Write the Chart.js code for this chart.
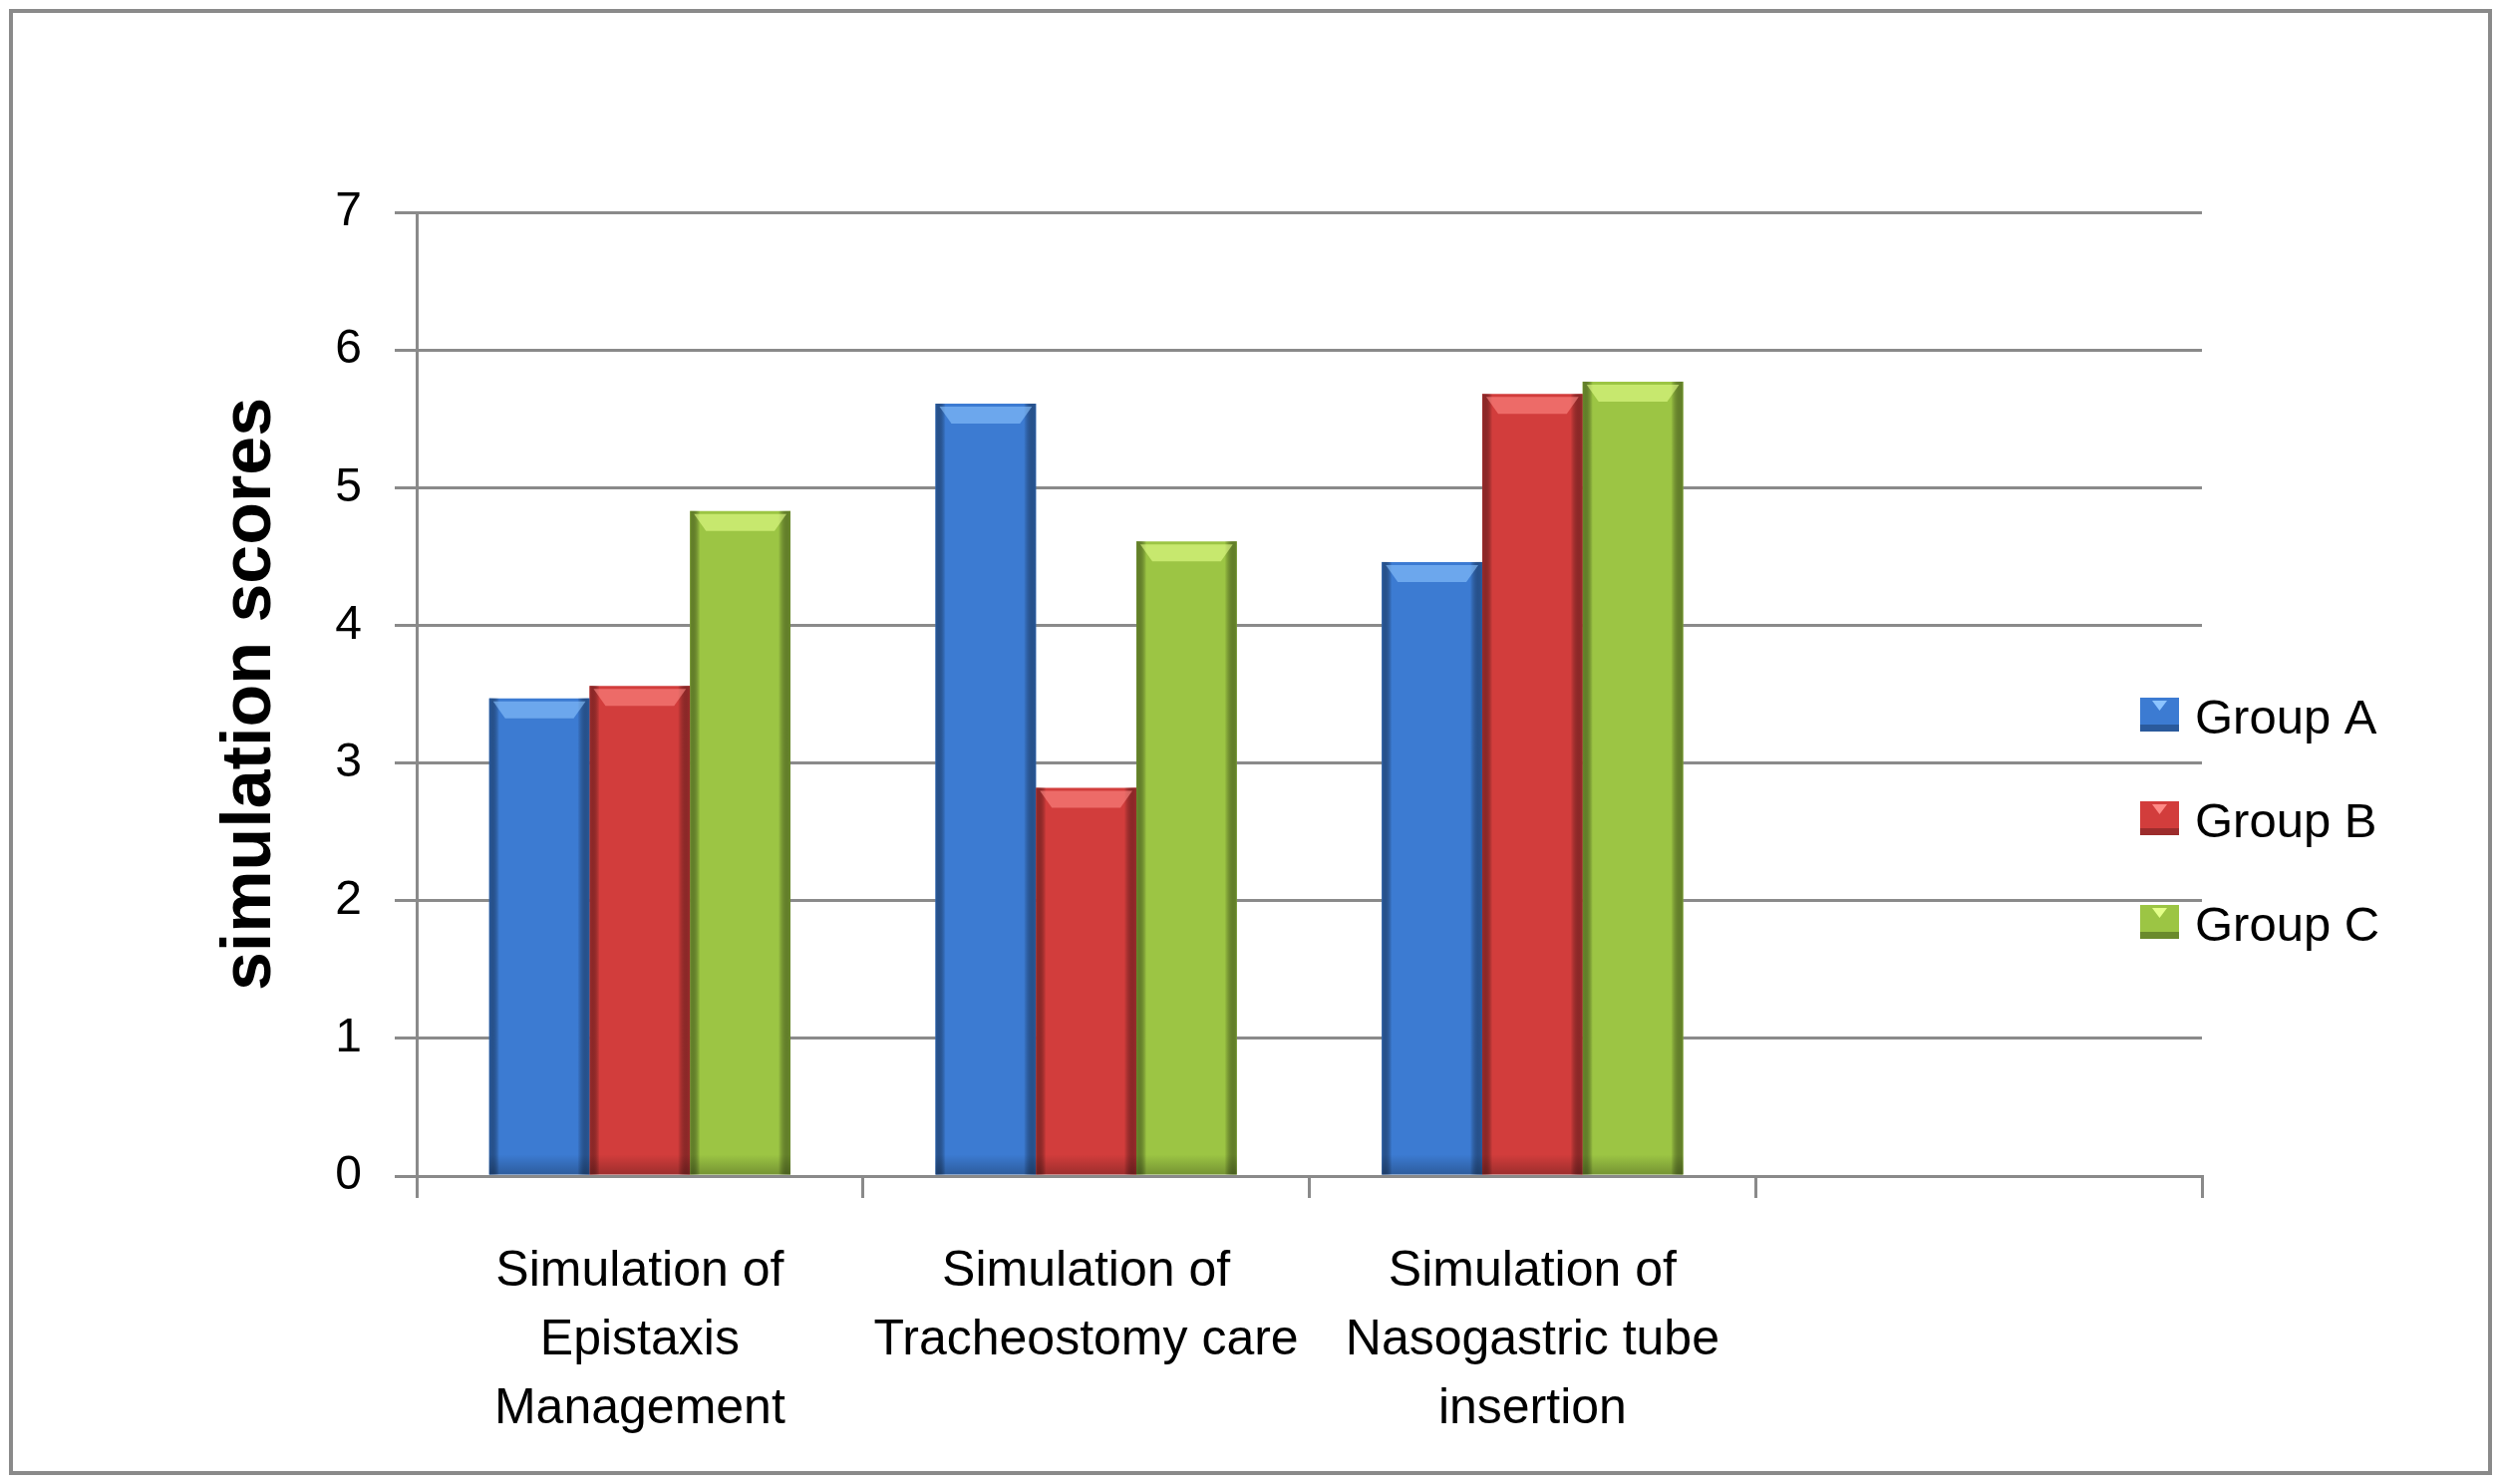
<!DOCTYPE html>
<html>
<head>
<meta charset="utf-8">
<script src="https://cdn.jsdelivr.net/npm/chart.js@4.4.1/dist/chart.umd.min.js"></script>
<style>
  html, body { margin: 0; padding: 0; background: #fff; }
  #wrap { position: absolute; left: 0; top: 0; width: 2507px; height: 1489px; }
</style>
</head>
<body>
<div id="wrap"><canvas id="scoreChart"></canvas></div>
<script>
// chart values
const categories = [
    ["Simulation of", "Epistaxis", "Management"],
    ["Simulation of", "Tracheostomy care"],
    ["Simulation of", "Nasogastric tube", "insertion"],
    ""
];
const seriesNames = ["Group A", "Group B", "Group C"];
const groupA = [3.47, 5.61, 4.46, null];
const groupB = [3.56, 2.82, 5.68, null];
const groupC = [4.83, 4.61, 5.77, null];
const yTicks = [0, 1, 2, 3, 4, 5, 6, 7];

const fills = ["#3c7bd2", "#d23d3c", "#9cc544"];
const edges = ["#2a5a9c", "#9c2c2c", "#6a8a2c"];
const tops = ["#8cc4ff", "#ff8a86", "#e4ff8a"];

Chart.defaults.font.family = "'Liberation Sans', Arial, sans-serif";
Chart.defaults.color = "#000";

// outer frame
const framePlugin = {
    id: "frame",
    afterDraw(chart) {
        const c = chart.ctx;
        c.save();
        c.strokeStyle = "#8a8a8a";
        c.lineWidth = 4;
        c.strokeRect(11, 11, chart.width - 20, chart.height - 22);
        c.restore();
    }
};

// bevelled look on each bar (Excel 2007 style)
const bevelPlugin = {
    id: "bevel",
    afterDatasetsDraw(chart) {
        const c = chart.ctx;
        chart.data.datasets.forEach(function (ds, di) {
            const meta = chart.getDatasetMeta(di);
            meta.data.forEach(function (bar, i) {
                if (ds.data[i] == null) return;
                const w = bar.width;
                const left = bar.x - w / 2;
                const top = bar.y;
                const h = bar.base - bar.y;
                c.save();
                const g = c.createLinearGradient(left, 0, left + w, 0);
                g.addColorStop(0, edges[di]);
                g.addColorStop(0.1, "rgba(0,0,0,0)");
                g.addColorStop(0.88, "rgba(0,0,0,0)");
                g.addColorStop(1, edges[di]);
                c.fillStyle = g;
                c.fillRect(left, top, w, h);
                const v = c.createLinearGradient(0, top + h - 20, 0, top + h);
                v.addColorStop(0, "rgba(0,0,0,0)");
                v.addColorStop(1, "rgba(0,0,0,0.25)");
                c.fillStyle = v;
                c.fillRect(left, top + h - 20, w, 20);
                // top highlight trapezoid
                c.fillStyle = tops[di];
                c.globalAlpha = 0.6;
                c.beginPath();
                c.moveTo(left + 4, top + 3);
                c.lineTo(left + w - 4, top + 3);
                c.lineTo(left + w - 16, top + 20);
                c.lineTo(left + 16, top + 20);
                c.closePath();
                c.fill();
                c.restore();
            });
        });
    }
};

// legend drawn over the right end of the plot, like the original
const legendPlugin = {
    id: "sideLegend",
    afterDraw(chart) {
        const c = chart.ctx;
        const area = chart.chartArea;
        const x = area.right - 62;
        const midY = 821;
        const step = 104;
        c.save();
        c.font = "49px 'Liberation Sans', Arial, sans-serif";
        c.textBaseline = "middle";
        c.textAlign = "left";
        chart.data.datasets.forEach(function (ds, di) {
            const y = midY + (di - 1) * step;
            c.fillStyle = fills[di];
            c.fillRect(x, y - 17, 39, 34);
            c.fillStyle = edges[di];
            c.fillRect(x, y + 10, 39, 7);
            c.fillStyle = tops[di];
            c.beginPath();
            c.moveTo(x + 12, y - 14);
            c.lineTo(x + 27, y - 14);
            c.lineTo(x + 19.5, y - 4);
            c.closePath();
            c.fill();
            c.fillStyle = "#000";
            c.fillText(ds.label, x + 55, y + 5);
        });
        c.restore();
    }
};

const ctx = document.getElementById("scoreChart").getContext("2d");
new Chart(ctx, {
    type: "bar",
    data: {
        labels: categories,
        datasets: [
            { label: seriesNames[0], data: groupA, backgroundColor: fills[0] },
            { label: seriesNames[1], data: groupB, backgroundColor: fills[1] },
            { label: seriesNames[2], data: groupC, backgroundColor: fills[2] }
        ]
    },
    options: {
        responsive: true,
        maintainAspectRatio: false,
        animation: false,
        devicePixelRatio: 1,
        layout: { padding: { left: 190, top: 213, right: 298, bottom: 0 } },
        datasets: { bar: { categoryPercentage: 0.675, barPercentage: 1 } },
        plugins: { legend: { display: false }, tooltip: { enabled: false } },
        scales: {
            x: {
                grid: { drawOnChartArea: false, color: "#8a8a8a", lineWidth: 3, tickLength: 22, offset: true },
                border: { color: "#8a8a8a", width: 3 },
                ticks: { padding: 40, maxRotation: 0, autoSkip: false,
                         font: { size: 50, lineHeight: 1.38 } }
            },
            y: {
                min: 0,
                max: 7,
                afterBuildTicks(scale) { scale.ticks = yTicks.map(v => ({ value: v })); },
                afterFit(scale) { scale.width = 228; },
                grid: { color: "#8a8a8a", lineWidth: 3, tickLength: 22 },
                border: { color: "#8a8a8a", width: 3 },
                ticks: { padding: 33, font: { size: 48 } },
                title: {
                    display: true,
                    text: "simulation scores",
                    padding: { top: 27, bottom: 0 },
                    font: { size: 70, weight: "bold", lineHeight: 1 }
                }
            }
        }
    },
    plugins: [bevelPlugin, legendPlugin, framePlugin]
});
</script>
</body>
</html>
